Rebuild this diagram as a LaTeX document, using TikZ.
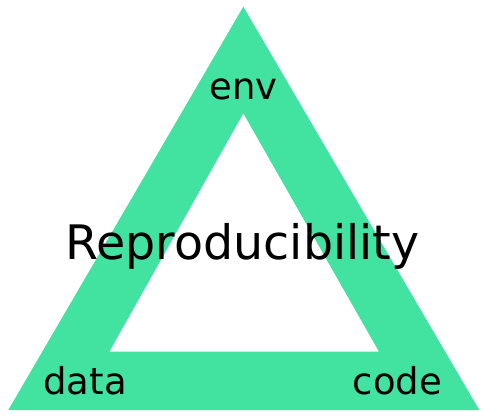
\documentclass[tikz,border=0pt]{standalone}
\usepackage{fontspec}
\setmainfont{DejaVu Sans}
\definecolor{tri}{RGB}{66,226,160}
\begin{document}
\begin{tikzpicture}[x=1pt,y=-1pt,
  lbl/.style={anchor=base,inner sep=0pt,font=\fontsize{37}{37}\selectfont},
  big/.style={anchor=base,inner sep=0pt,font=\fontsize{47.5}{47.5}\selectfont}]
\useasboundingbox (0,0) rectangle (500,416);
\fill[tri,even odd rule] (243.3,6.7) -- (479.3,410) -- (8.3,410) -- cycle
  (243.3,113.3) -- (379,351.7) -- (109.3,351.7) -- cycle;
\node[lbl] (env) at (243.5,99.3) {env};
\node[lbl] (data) at (85,394.3) {data};
\node[lbl] (code) at (397.5,394.3) {code};
\node[big] (rep) at (242.5,259.3) {Reproducibility};
\end{tikzpicture}
\end{document}
